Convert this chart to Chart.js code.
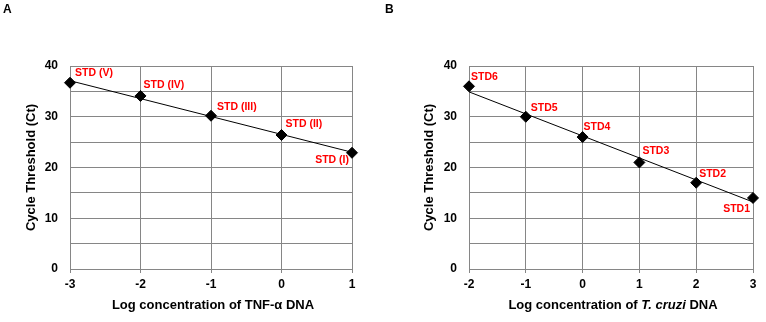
<!DOCTYPE html>
<html>
<head>
<meta charset="utf-8">
<script src="https://cdn.jsdelivr.net/npm/chart.js@4/dist/chart.umd.min.js"></script>
<style>
  body { margin: 0; background: #fff; }
  .panel { position: absolute; top: 0; width: 383px; height: 322px; }
</style>
</head>
<body>
<div class="panel" style="left:0"><canvas id="chartA"></canvas></div>
<div class="panel" style="left:383px"><canvas id="chartB"></canvas></div>
<script>
// Panel A: TNF-alpha standards
const logConcA = [-3, -2, -1, 0, 1];
const ctA = [36.7, 34.1, 30.2, 26.4, 22.9];
const labelsA = ['STD (V)', 'STD (IV)', 'STD (III)', 'STD (II)', 'STD (I)'];
const trendXA = [-3, 1];
const trendYA = [37.1, 23.0];

// Panel B: T. cruzi standards
const logConcB = [-2, -1, 0, 1, 2, 3];
const ctB = [36, 30, 26, 21, 17, 14];
const labelsB = ['STD6', 'STD5', 'STD4', 'STD3', 'STD2', 'STD1'];
const trendXB = [-2, 3];
const trendYB = [34.9, 13.2];

const yTicks = [0, 10, 20, 30, 40];

const FONT = 'Arial, "Liberation Sans", sans-serif';
const GRID = '#868686';

// draws point labels, panel letter and the x title (which needs mixed fonts)
const decorPlugin = {
  id: 'decor',
  afterDatasetsDraw(chart, args, opts) {
    const ctx = chart.ctx;
    const meta = chart.getDatasetMeta(1);
    ctx.save();
    ctx.fillStyle = '#ff0000';
    ctx.font = 'bold 10.5px ' + FONT;
    ctx.textBaseline = 'middle';
    meta.data.forEach((pt, i) => {
      const off = opts.offsets[i];
      ctx.textAlign = off[2] || 'left';
      ctx.fillText(opts.labels[i], pt.x + off[0], pt.y + off[1]);
    });

    ctx.fillStyle = '#000';
    ctx.textAlign = 'left';
    ctx.font = 'bold 12px ' + FONT;
    ctx.fillText(opts.letter, opts.letterX, 10);

    // x axis title
    const parts = opts.xTitle;
    let total = 0;
    parts.forEach(p => {
      ctx.font = (p[1] ? 'italic ' : '') + 'bold 13px ' + FONT;
      total += ctx.measureText(p[0]).width;
    });
    const area = chart.chartArea;
    let x = (area.left + area.right) / 2 - total / 2 + 2;
    parts.forEach(p => {
      ctx.font = (p[1] ? 'italic ' : '') + 'bold 13px ' + FONT;
      ctx.fillText(p[0], x, 305);
      x += ctx.measureText(p[0]).width;
    });
    ctx.restore();
  }
};

function makeChart(id, xs, ys, tx, ty, xmin, xmax, yAxisW, padLeft, padRight, decor) {
  const points = xs.map((x, i) => ({ x: x, y: ys[i] }));
  const trend = tx.map((x, i) => ({ x: x, y: ty[i] }));
  return new Chart(document.getElementById(id), {
    type: 'scatter',
    data: {
      datasets: [
        {
          data: trend,
          showLine: true,
          borderColor: '#000',
          borderWidth: 1,
          pointRadius: 0,
          clip: false
        },
        {
          data: points,
          pointStyle: 'rectRot',
          pointRadius: 5.5,
          backgroundColor: '#000',
          borderColor: '#000',
          borderWidth: 1,
          clip: false
        }
      ]
    },
    options: {
      responsive: false,
      animation: false,
      events: [],
      layout: { padding: { top: 66, left: padLeft, right: padRight, bottom: 0 } },
      plugins: { legend: { display: false }, tooltip: { enabled: false }, decor: decor },
      scales: {
        x: {
          type: 'linear',
          min: xmin,
          max: xmax,
          afterFit: s => { s.height = 53; },
          grid: { color: GRID, lineWidth: 1, tickLength: 4 },
          border: { color: GRID },
          ticks: {
            stepSize: 1,
            padding: 4,
            color: '#000',
            font: { family: FONT, size: 12, weight: 'bold' }
          }
        },
        y: {
          min: 0,
          max: 40,
          afterFit: s => { s.width = yAxisW; },
          afterBuildTicks: s => {
            const t = [];
            for (let v = 0; v <= 40; v += 5) t.push({ value: v });
            s.ticks = t;
          },
          grid: { color: GRID, lineWidth: 1, drawTicks: false },
          border: { color: GRID },
          ticks: {
            padding: 12,
            color: '#000',
            font: { family: FONT, size: 12, weight: 'bold' },
            callback: v => yTicks.includes(v) ? String(v) : ''
          },
          title: {
            display: true,
            text: 'Cycle Threshold (Ct)',
            color: '#000',
            padding: 0,
            font: { family: FONT, size: 13, weight: 'bold' }
          }
        }
      }
    },
    plugins: [decorPlugin]
  });
}

function sizeCanvas(id) {
  const c = document.getElementById(id);
  c.width = 383; c.height = 322;
  c.style.width = '383px'; c.style.height = '322px';
}
sizeCanvas('chartA');
sizeCanvas('chartB');

makeChart('chartA', logConcA, ctA, trendXA, trendYA, -3, 1, 46, 24, 31, {
  labels: labelsA,
  offsets: [[5, -10], [3, -11], [6, -9], [4, -11], [-3, 7, 'right']],
  letter: 'A',
  letterX: 3,
  xTitle: [['Log concentration of TNF-\u03b1 DNA', false]]
});

makeChart('chartB', logConcB, ctB, trendXB, trendYB, -2, 3, 47, 39, 13, {
  labels: labelsB,
  offsets: [[2, -9], [5, -9], [1, -10], [3, -11], [3, -9], [-3, 11, 'right']],
  letter: 'B',
  letterX: 2,
  xTitle: [['Log concentration of ', false], ['T. cruzi', true], [' DNA', false]]
});
</script>
</body>
</html>
